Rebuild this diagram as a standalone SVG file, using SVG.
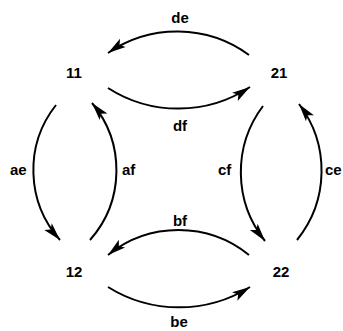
<svg xmlns="http://www.w3.org/2000/svg" width="343" height="331" viewBox="0 0 343 331">
<style>
.n{font-family:"Liberation Sans",Arial,sans-serif;font-weight:bold;font-size:15px;fill:#000;text-anchor:middle}
.l{font-family:"Liberation Sans",Arial,sans-serif;font-weight:bold;font-size:15px;fill:#000}
.e{fill:none;stroke:#000;stroke-width:2;marker-end:url(#ah)}
</style>
<defs>
<marker id="ah" markerUnits="userSpaceOnUse" markerWidth="24" markerHeight="14" viewBox="-20 -7 24 14" refX="0" refY="0" orient="auto">
<path d="M0,0 L-18,-5 L-14,0 L-18,5 Z" fill="#000"/>
</marker>
</defs>
<rect width="343" height="331" fill="#fff"/>
<g id="connectors">
<path id="de" class="e" d="M249,55 A122 122 0 0 0 108,53"/>
<path id="df" class="e" d="M108,88 A130 130 0 0 0 250,87"/>
<path id="ae" class="e" d="M56,105 A105 105 0 0 0 60,240"/>
<path id="af" class="e" d="M90,240 A105 105 0 0 0 92,103"/>
<path id="cf" class="e" d="M263,106 A110 110 0 0 0 265,241"/>
<path id="ce" class="e" d="M297,240 A110 110 0 0 0 299,104"/>
<path id="bf" class="e" d="M249,255 A112 112 0 0 0 108,255"/>
<path id="be" class="e" d="M108,287 A134 134 0 0 0 250,287"/>
</g>
<g id="labels">
<text class="n" x="180" y="23">de</text>
<text class="n" x="180" y="131">df</text>
<text class="l" x="10" y="175">ae</text>
<text class="l" x="122" y="175">af</text>
<text class="l" x="218" y="175">cf</text>
<text class="l" x="325" y="175">ce</text>
<text class="n" x="180" y="226">bf</text>
<text class="n" x="179" y="327">be</text>
</g>
<g id="n11"><text class="n" x="74" y="78">11</text></g>
<g id="n21"><text class="n" x="279" y="78">21</text></g>
<g id="n12"><text class="n" x="74" y="277">12</text></g>
<g id="n22"><text class="n" x="281" y="277">22</text></g>
</svg>
